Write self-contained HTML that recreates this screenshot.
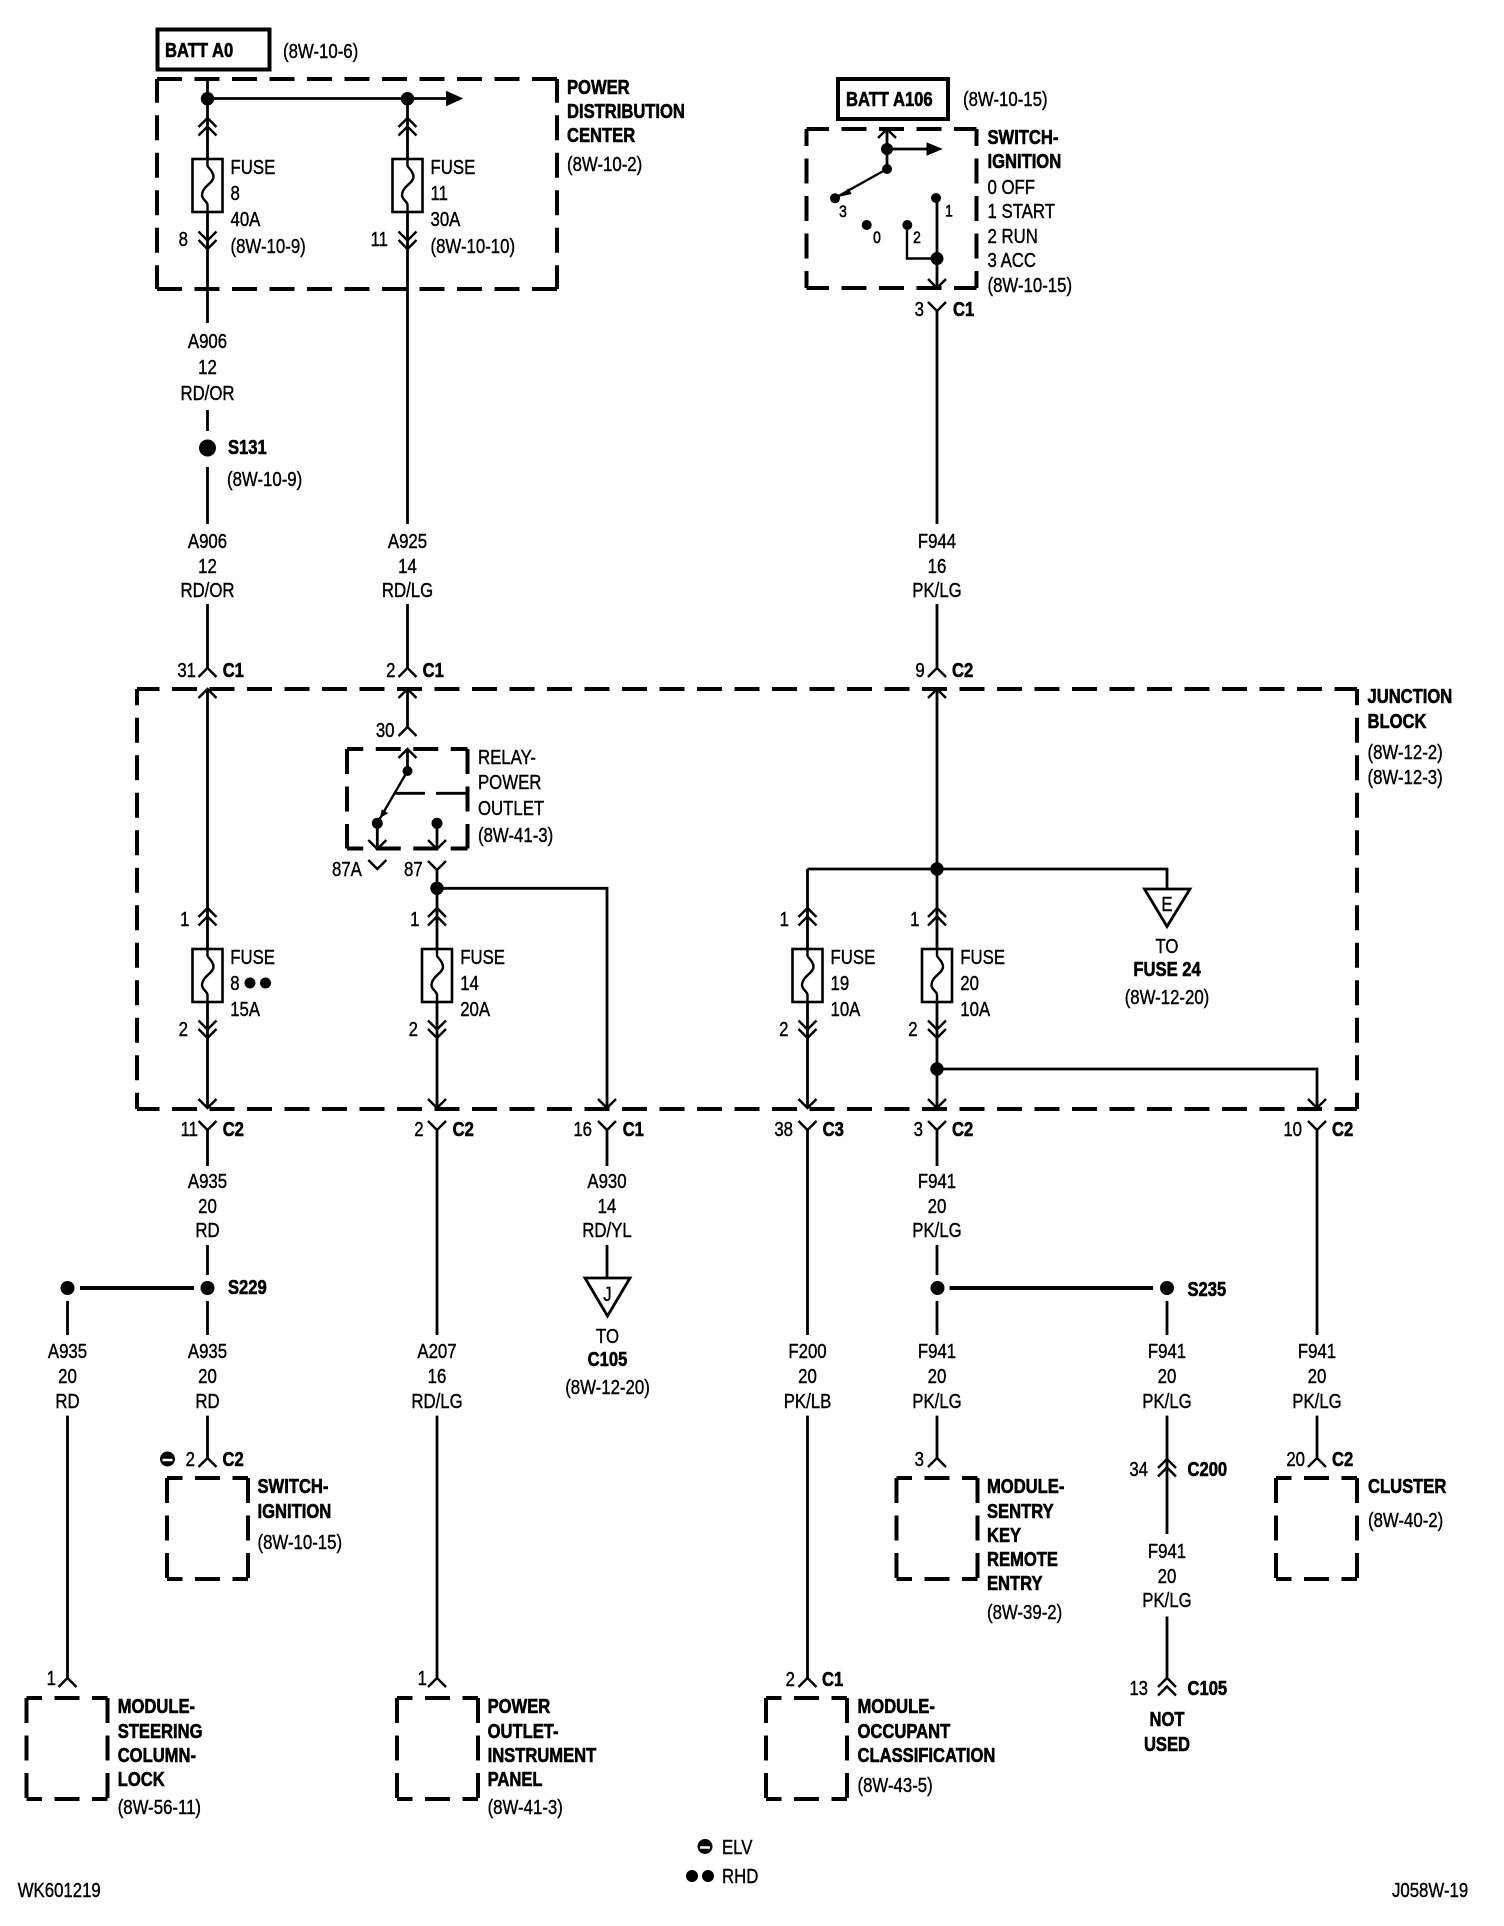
<!DOCTYPE html>
<html><head><meta charset="utf-8"><title>Wiring diagram</title>
<style>
html,body{margin:0;padding:0;background:#fff}
svg{display:block}
text{font-family:"Liberation Sans",sans-serif;font-size:20px;fill:#000;stroke:#000;stroke-width:.4;transform-box:fill-box;transform-origin:0 0;transform:scaleX(.84)}
.b{font-weight:bold;stroke-width:.6;transform:scaleX(.83)}
.c{text-anchor:middle;transform-origin:50% 0}
.e{text-anchor:end;transform-origin:100% 0}
.s{font-size:16.5px;stroke-width:.6}
.w{fill:none;stroke:#000;stroke-width:2.8}
.k{fill:none;stroke:#000;stroke-width:2.4}
.t{fill:none;stroke:#000;stroke-width:4}
</style></head><body>
<svg width="1504" height="1926" viewBox="0 0 1504 1926" xmlns="http://www.w3.org/2000/svg">
<defs>
<path id="u" class="k" d="M-9 9L0 0L9 9"/>
<path id="d" class="k" d="M-9-9L0 0L9-9"/>
<g id="uu"><use href="#u"/><use href="#u" y="8.5"/></g>
<g id="dd"><use href="#d"/><use href="#d" y="-8.5"/></g>
<g id="f"><rect x="-15" y="0" width="30" height="53" fill="#fff" stroke="#000" stroke-width="2.6"/><path class="k" d="M0 0V7C2 10 6 13 6 18C6 24-5 27-5.5 36C-5.5 41 0 42 0 46V53"/></g>
<g id="m"><path class="t" stroke-dasharray="25 12.5" stroke-dashoffset="9.5" d="M0 0H81M0 101H81"/><path class="t" stroke-dasharray="25 12.5" d="M0 0V101M81 0V101"/></g>
</defs>
<rect width="1504" height="1926" fill="#fff"/>

<!-- dashed enclosures -->
<rect x="157.5" y="29.5" width="112" height="40" fill="none" stroke="#000" stroke-width="4"/>
<rect x="838" y="79" width="110" height="40" fill="none" stroke="#000" stroke-width="4"/>
<path class="t" stroke-dasharray="25 12.5" d="M157 79H557M157 289H557"/>
<path class="t" stroke-dasharray="25 12.5" stroke-dashoffset="1.25" d="M157 79V289M557 79V289"/>
<path class="t" stroke-dasharray="25 12.5" stroke-dashoffset="2.5" d="M806.5 129H976.5M806.5 288H976.5"/>
<path class="t" stroke-dasharray="25 12.5" stroke-dashoffset="8" d="M806.5 129V288M976.5 129V288"/>
<path class="t" stroke-dasharray="25 12.5" stroke-dashoffset="2.5" d="M137 689H1357M137 1109H1357"/>
<path class="t" stroke-dasharray="25 12.5" stroke-dashoffset="8.75" d="M137 689V1109M1357 689V1109"/>
<path class="t" stroke-dasharray="25 12.5" stroke-dashoffset="8.75" d="M347 749H467.5M347 848.5H467.5"/>
<path class="t" stroke-dasharray="25 12.5" d="M347 749V848.5M467.5 749V848.5"/>
<use href="#m" x="167" y="1478"/>
<use href="#m" x="896.5" y="1478"/>
<use href="#m" x="1276" y="1478"/>
<use href="#m" x="26.5" y="1698"/>
<use href="#m" x="397" y="1698"/>
<use href="#m" x="766" y="1698"/>

<!-- wires -->
<path class="w" d="M207.5 79V323M207.5 410V431M207.5 467V524M207.5 604V668M207.5 689V1108M207.5 1130V1166M207.5 1245V1275M207.5 1301V1335M207.5 1415.6V1458
M67.5 1301V1335M67.5 1415.6V1678
M407.5 98.5V524M407.5 604V668M407.5 689V727M407.5 749V771M207.5 98.5H450
M887 129V169M887 149H927M937 198V288
M937 311V524M937 604V668M937 689V1108M937 1130V1166M937 1245V1275M937 1301V1335M937 1415.6V1458
M377.3 823V849M437 823V849M437 870V1108M437 1130V1335M437 1415.6V1678
M437 888.3H607V1108M607 1130V1166M607 1245V1278
M807.5 869H1167V889M807.5 869V1108M807.5 1130V1335M807.5 1415.6V1678
M937 1069H1317V1108M1317 1130V1335M1317 1415.6V1458
M1167 1301V1335M1167 1415.6V1534M1167 1616.5V1678"/>
<path class="k" d="M887 169L835 198M407.5 771L377.3 823M907 225V258.5H937"/>
<path class="t" d="M80 1288H194M949.5 1288H1153"/>
<path class="w" d="M393.5 793.3H425M436 793.3H467"/>

<!-- arrow triangles -->
<path d="M446.5 91.5V105.5L462 98.5Z" fill="#000" stroke="#000"/>
<path d="M927 143V155L941.5 149Z" fill="#000" stroke="#000"/>
<path d="M839.3 196.7L848.3 188.3L851.7 194Z" fill="#000"/>
<path d="M380 818L381.7 809.3L388.3 813.3Z" fill="#000"/>
<path d="M1144.5 889H1190L1167 926.5Z" fill="#fff" stroke="#000" stroke-width="2.8"/>
<path d="M585 1278H630L607.5 1316Z" fill="#fff" stroke="#000" stroke-width="2.8"/>

<!-- fuses -->
<use href="#f" x="207.5" y="159"/>
<use href="#f" x="407.5" y="159"/>
<use href="#f" x="207.5" y="949"/>
<use href="#f" x="437" y="949"/>
<use href="#f" x="807.5" y="949"/>
<use href="#f" x="937" y="949"/>

<!-- chevrons -->
<use href="#uu" x="207.5" y="118"/><use href="#uu" x="407.5" y="118"/>
<use href="#dd" x="207.5" y="249"/><use href="#dd" x="407.5" y="249"/>
<use href="#u" x="887" y="129"/><use href="#d" x="937" y="288"/>
<use href="#d" x="937" y="311"/>
<use href="#u" x="207.5" y="668"/><use href="#u" x="407.5" y="668"/><use href="#u" x="937" y="668"/>
<use href="#u" x="207.5" y="689"/><use href="#u" x="407.5" y="689"/><use href="#u" x="937" y="689"/>
<use href="#u" x="407.5" y="727"/><use href="#u" x="407.5" y="749"/>
<use href="#d" x="377.3" y="849"/><use href="#d" x="437" y="849"/>
<use href="#d" x="377.3" y="869"/><use href="#d" x="437" y="870"/>
<use href="#uu" x="207.5" y="908"/><use href="#uu" x="437" y="908"/><use href="#uu" x="807.5" y="908"/><use href="#uu" x="937" y="908"/>
<use href="#dd" x="207.5" y="1038"/><use href="#dd" x="437" y="1038"/><use href="#dd" x="807.5" y="1038"/><use href="#dd" x="937" y="1038"/>
<use href="#d" x="207.5" y="1108"/><use href="#d" x="437" y="1108"/><use href="#d" x="607" y="1108"/><use href="#d" x="807.5" y="1108"/><use href="#d" x="937" y="1108"/><use href="#d" x="1317" y="1108"/>
<use href="#d" x="207.5" y="1130"/><use href="#d" x="437" y="1130"/><use href="#d" x="607" y="1130"/><use href="#d" x="807.5" y="1130"/><use href="#d" x="937" y="1130"/><use href="#d" x="1317" y="1130"/>
<use href="#u" x="207.5" y="1458"/><use href="#u" x="937" y="1458"/><use href="#u" x="1317" y="1458"/>
<use href="#uu" x="1167" y="1459"/>
<use href="#u" x="67.5" y="1678"/><use href="#u" x="437" y="1678"/><use href="#u" x="807.5" y="1678"/>
<use href="#uu" x="1167" y="1678"/>

<!-- dots -->
<g fill="#000">
<circle cx="207.5" cy="98.7" r="6.7"/><circle cx="407.5" cy="98.7" r="6.7"/>
<circle cx="207.5" cy="448" r="8.5"/>
<circle cx="887" cy="149" r="6"/><circle cx="887" cy="169" r="5"/>
<circle cx="835" cy="198.3" r="5"/><circle cx="866.7" cy="225" r="5"/><circle cx="907.3" cy="225" r="5"/><circle cx="936" cy="198" r="5"/><circle cx="937" cy="258.5" r="6.5"/>
<circle cx="407.5" cy="771" r="5"/><circle cx="377.3" cy="823.3" r="5.5"/><circle cx="437" cy="823.3" r="5.5"/>
<circle cx="437" cy="888.3" r="6.7"/><circle cx="937" cy="869" r="6.7"/><circle cx="937" cy="1069" r="6.7"/>
<circle cx="250" cy="983" r="5.5"/><circle cx="265.5" cy="983" r="5.5"/>
<circle cx="67.5" cy="1288" r="7"/><circle cx="207.5" cy="1288" r="7"/>
<circle cx="937.5" cy="1288" r="7"/><circle cx="1167" cy="1288" r="7"/>
<circle cx="167.5" cy="1459" r="7.5"/><circle cx="705" cy="1846.5" r="7.5"/>
<circle cx="692" cy="1876" r="6"/><circle cx="708" cy="1876" r="6"/>
</g>
<path d="M162.5 1460H172.5M700 1847.5H710" stroke="#fff" stroke-width="2.5"/>

<!-- top labels -->
<text class="b" x="165" y="57">BATT A0</text>
<text x="283" y="58">(8W-10-6)</text>
<text class="b" x="567" y="94">POWER</text>
<text class="b" x="567" y="118">DISTRIBUTION</text>
<text class="b" x="567" y="142">CENTER</text>
<text x="567" y="171">(8W-10-2)</text>
<text x="230.5" y="174">FUSE</text><text x="230.5" y="200">8</text><text x="230.5" y="226">40A</text><text x="230.5" y="253">(8W-10-9)</text>
<text x="430.5" y="174">FUSE</text><text x="430.5" y="200">11</text><text x="430.5" y="226">30A</text><text x="430.5" y="253">(8W-10-10)</text>
<text class="e" x="188" y="246">8</text><text class="e" x="388" y="246">11</text>
<text class="c" x="207.5" y="348">A906</text><text class="c" x="207.5" y="374">12</text><text class="c" x="207.5" y="400">RD/OR</text>
<text class="b" x="228" y="454">S131</text><text x="227" y="486">(8W-10-9)</text>
<text class="c" x="207.5" y="548">A906</text><text class="c" x="207.5" y="573">12</text><text class="c" x="207.5" y="597">RD/OR</text>
<text class="c" x="407.5" y="548">A925</text><text class="c" x="407.5" y="573">14</text><text class="c" x="407.5" y="597">RD/LG</text>
<text class="c" x="937" y="548">F944</text><text class="c" x="937" y="573">16</text><text class="c" x="937" y="597">PK/LG</text>

<text class="b" x="846" y="106">BATT A106</text>
<text x="963" y="106">(8W-10-15)</text>
<text class="b" x="987.5" y="144">SWITCH-</text><text class="b" x="987.5" y="168">IGNITION</text>
<text x="987.5" y="194">0 OFF</text><text x="987.5" y="218">1 START</text><text x="987.5" y="243">2 RUN</text><text x="987.5" y="267">3 ACC</text><text x="987.5" y="292">(8W-10-15)</text>
<text class="c s" x="843" y="217">3</text><text class="c s" x="949" y="216.5">1</text><text class="c s" x="877" y="243">0</text><text class="c s" x="917" y="243">2</text>
<text class="e" x="924" y="316">3</text><text class="b" x="953" y="316">C1</text>

<!-- junction block top -->
<text class="e" x="196" y="677">31</text><text class="b" x="222.7" y="677">C1</text>
<text class="e" x="395.5" y="677">2</text><text class="b" x="422.7" y="677">C1</text>
<text class="e" x="924.7" y="677">9</text><text class="b" x="952" y="677">C2</text>
<text class="b" x="1367.5" y="703">JUNCTION</text><text class="b" x="1367.5" y="728">BLOCK</text>
<text x="1367.5" y="759">(8W-12-2)</text><text x="1367.5" y="784">(8W-12-3)</text>
<text class="e" x="394.5" y="737">30</text>
<text x="478" y="764">RELAY-</text><text x="478" y="789">POWER</text><text x="478" y="815">OUTLET</text><text x="478" y="842">(8W-41-3)</text>
<text x="332" y="876">87A</text><text class="e" x="422.7" y="876">87</text>

<text class="e" x="189.5" y="926">1</text><text class="e" x="419.5" y="926">1</text><text class="e" x="789" y="926">1</text><text class="e" x="919.5" y="926">1</text>
<text class="e" x="188" y="1036">2</text><text class="e" x="418" y="1036">2</text><text class="e" x="788.5" y="1036">2</text><text class="e" x="917.6" y="1036">2</text>
<text x="230.2" y="964">FUSE</text><text x="230.2" y="990">8</text><text x="230.2" y="1016">15A</text>
<text x="460.2" y="964">FUSE</text><text x="460.2" y="990">14</text><text x="460.2" y="1016">20A</text>
<text x="830.5" y="964">FUSE</text><text x="830.5" y="990">19</text><text x="830.5" y="1016">10A</text>
<text x="960.3" y="964">FUSE</text><text x="960.3" y="990">20</text><text x="960.3" y="1016">10A</text>
<text class="c" x="1167" y="911">E</text>
<text class="c" x="1167" y="953">TO</text><text class="c b" x="1167" y="976">FUSE 24</text><text class="c" x="1167" y="1004">(8W-12-20)</text>

<!-- junction block bottom connectors -->
<text class="e" x="198" y="1136">11</text><text class="b" x="222.7" y="1136">C2</text>
<text class="e" x="423.6" y="1136">2</text><text class="b" x="452.6" y="1136">C2</text>
<text class="e" x="592" y="1136">16</text><text class="b" x="622.7" y="1136">C1</text>
<text class="e" x="793" y="1136">38</text><text class="b" x="822.6" y="1136">C3</text>
<text class="e" x="923" y="1136">3</text><text class="b" x="952" y="1136">C2</text>
<text class="e" x="1302" y="1136">10</text><text class="b" x="1332" y="1136">C2</text>

<text class="c" x="207.5" y="1188">A935</text><text class="c" x="207.5" y="1213">20</text><text class="c" x="207.5" y="1237">RD</text>
<text class="c" x="607" y="1188">A930</text><text class="c" x="607" y="1213">14</text><text class="c" x="607" y="1237">RD/YL</text>
<text class="c" x="937" y="1188">F941</text><text class="c" x="937" y="1213">20</text><text class="c" x="937" y="1237">PK/LG</text>
<text class="c" x="607.5" y="1301">J</text>
<text class="c" x="607.5" y="1343">TO</text><text class="c b" x="607.5" y="1366">C105</text><text class="c" x="607.5" y="1394">(8W-12-20)</text>
<text class="b" x="228" y="1294">S229</text><text class="b" x="1187.5" y="1296">S235</text>

<!-- wire stacks -->
<text class="c" x="67.5" y="1358">A935</text><text class="c" x="67.5" y="1383">20</text><text class="c" x="67.5" y="1408">RD</text>
<text class="c" x="207.5" y="1358">A935</text><text class="c" x="207.5" y="1383">20</text><text class="c" x="207.5" y="1408">RD</text>
<text class="c" x="437" y="1358">A207</text><text class="c" x="437" y="1383">16</text><text class="c" x="437" y="1408">RD/LG</text>
<text class="c" x="807.5" y="1358">F200</text><text class="c" x="807.5" y="1383">20</text><text class="c" x="807.5" y="1408">PK/LB</text>
<text class="c" x="937" y="1358">F941</text><text class="c" x="937" y="1383">20</text><text class="c" x="937" y="1408">PK/LG</text>
<text class="c" x="1167" y="1358">F941</text><text class="c" x="1167" y="1383">20</text><text class="c" x="1167" y="1408">PK/LG</text>
<text class="c" x="1317" y="1358">F941</text><text class="c" x="1317" y="1383">20</text><text class="c" x="1317" y="1408">PK/LG</text>
<text class="c" x="1167" y="1558">F941</text><text class="c" x="1167" y="1583">20</text><text class="c" x="1167" y="1607">PK/LG</text>

<!-- lower connectors and modules -->
<text class="e" x="195" y="1466">2</text><text class="b" x="222.5" y="1466">C2</text>
<text class="b" x="257.5" y="1493">SWITCH-</text><text class="b" x="257.5" y="1518">IGNITION</text><text x="257.5" y="1549">(8W-10-15)</text>
<text class="e" x="924" y="1466">3</text>
<text class="b" x="987" y="1493">MODULE-</text><text class="b" x="987" y="1518">SENTRY</text><text class="b" x="987" y="1542">KEY</text><text class="b" x="987" y="1566">REMOTE</text><text class="b" x="987" y="1590">ENTRY</text><text x="987" y="1619">(8W-39-2)</text>
<text class="e" x="1148" y="1476">34</text><text class="b" x="1187.5" y="1476">C200</text>
<text class="e" x="1305" y="1466">20</text><text class="b" x="1332" y="1466">C2</text>
<text class="b" x="1368" y="1493">CLUSTER</text><text x="1368" y="1527">(8W-40-2)</text>
<text class="e" x="56" y="1685">1</text>
<text class="e" x="427" y="1685">1</text>
<text class="e" x="795" y="1686">2</text><text class="b" x="822" y="1686">C1</text>
<text class="e" x="1148" y="1695">13</text><text class="b" x="1187.5" y="1695">C105</text>
<text class="c b" x="1167" y="1726">NOT</text><text class="c b" x="1167" y="1751">USED</text>
<text class="b" x="117.7" y="1713">MODULE-</text><text class="b" x="117.7" y="1738">STEERING</text><text class="b" x="117.7" y="1762">COLUMN-</text><text class="b" x="117.7" y="1786">LOCK</text><text x="117.7" y="1814">(8W-56-11)</text>
<text class="b" x="487.6" y="1713">POWER</text><text class="b" x="487.6" y="1738">OUTLET-</text><text class="b" x="487.6" y="1762">INSTRUMENT</text><text class="b" x="487.6" y="1786">PANEL</text><text x="487.6" y="1814">(8W-41-3)</text>
<text class="b" x="857.5" y="1713">MODULE-</text><text class="b" x="857.5" y="1738">OCCUPANT</text><text class="b" x="857.5" y="1762">CLASSIFICATION</text><text x="857.5" y="1792">(8W-43-5)</text>

<!-- footer -->
<text x="722" y="1854">ELV</text><text x="722" y="1883">RHD</text>
<text x="17.7" y="1897">WK601219</text>
<text x="1392" y="1897">J058W-19</text>
</svg>
</body></html>
